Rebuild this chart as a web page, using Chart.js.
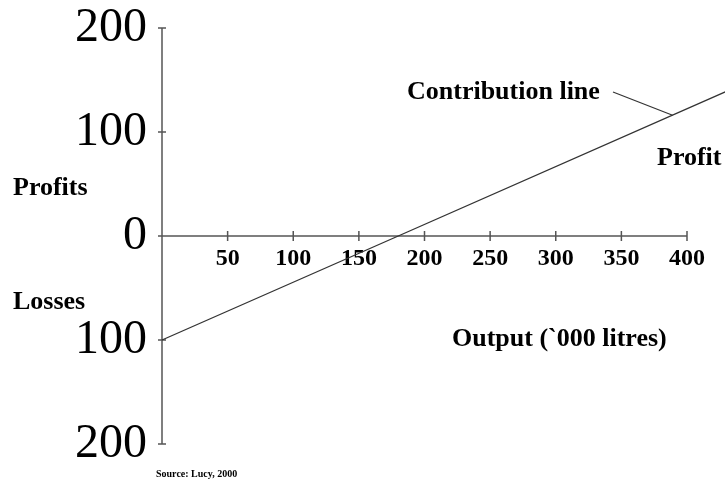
<!DOCTYPE html>
<html>
<head>
<meta charset="utf-8">
<script src="https://cdn.jsdelivr.net/npm/chart.js@4.4.1/dist/chart.umd.min.js"></script>
<style>
body{margin:0;background:#fff}
#wrap{width:725px;height:481px}
</style>
</head>
<body>
<div id="wrap"><canvas id="pv"></canvas></div>
<script>
// contribution line: output ('000 litres) vs profit/loss
const output=[0,180,430]
const contribution=[-100,0,139]

const xTicks=[50,100,150,200,250,300,350,400]
const xLabels=["50","100","150","200","250","300","350","400"]
const yTicks=[-200,-100,0,100,200]
const yLabels=["200","100","0","100","200"]

const xTitle="Output (`000 litres)"
const lineLabel="Contribution line"
const source="Source: Lucy, 2000"

const serif="'Liberation Serif','Times New Roman',serif"

const axesPlugin={
id:"axes",
beforeDatasetsDraw(chart){
let ctx=chart.ctx,x=chart.scales.x,y=chart.scales.y
let x0=x.getPixelForValue(0),y0=y.getPixelForValue(0)
ctx.save()
ctx.strokeStyle="#555"
ctx.lineWidth=1.5
ctx.beginPath()
ctx.moveTo(x0,y.getPixelForValue(200))
ctx.lineTo(x0,y.getPixelForValue(-200))
ctx.moveTo(x0-3,y0)
ctx.lineTo(x.getPixelForValue(400),y0)
xTicks.forEach(v=>{
let px=x.getPixelForValue(v)
ctx.moveTo(px,y0-5)
ctx.lineTo(px,y0+5)
})
yTicks.forEach(v=>{
let py=y.getPixelForValue(v)
ctx.moveTo(x0-4,py)
ctx.lineTo(x0+4,py)
})
ctx.stroke()
ctx.restore()
},
afterDatasetsDraw(chart){
let ctx=chart.ctx,x=chart.scales.x,y=chart.scales.y
ctx.save()
ctx.fillStyle="#000"
ctx.textBaseline="alphabetic"
ctx.textAlign="left"
ctx.font="bold 26px "+serif
ctx.fillText("Profits",13,195)
ctx.fillText("Losses",13,309)
ctx.fillText(lineLabel,407,99)
ctx.fillText("Profit",657,165)
ctx.fillText(xTitle,452,346)
ctx.font="bold 10px "+serif
ctx.fillText(source,156,477)
// pointer from label to the line
let ex=389
let ey=contribution[0]+(contribution[1]-contribution[0])*ex/(output[1]-output[0])
ctx.strokeStyle="#333"
ctx.lineWidth=1.2
ctx.beginPath()
ctx.moveTo(613,92)
ctx.lineTo(x.getPixelForValue(ex),y.getPixelForValue(ey))
ctx.stroke()
ctx.restore()
}
}

new Chart(document.getElementById("pv"),{
type:"line",
data:{
datasets:[{
label:lineLabel,
data:output.map((v,i)=>({x:v,y:contribution[i]})),
borderColor:"#333",
borderWidth:1.3,
pointRadius:0,
tension:0,
clip:false
}]
},
options:{
responsive:true,
maintainAspectRatio:false,
animation:false,
layout:{padding:{top:28,bottom:37,right:38,left:0}},
plugins:{legend:{display:false},tooltip:{enabled:false}},
scales:{
x:{
type:"linear",
min:0,
max:400,
position:{y:0},
afterFit(s){s.height=0;s.paddingLeft=0;s.paddingRight=0},
afterBuildTicks(s){s.ticks=xTicks.map(v=>({value:v}))},
grid:{display:false,drawTicks:false},
border:{display:false},
ticks:{
padding:8,
color:"#000",
maxRotation:0,
autoSkip:false,
font:{family:serif,size:24,weight:"bold"},
callback:(v,i)=>xLabels[i]
}
},
y:{
type:"linear",
min:-200,
max:200,
afterFit(s){s.width=162;s.paddingTop=0;s.paddingBottom=0},
afterBuildTicks(s){s.ticks=yTicks.map(v=>({value:v}))},
grid:{display:false,drawTicks:false},
border:{display:false},
ticks:{
padding:15,
color:"#000",
autoSkip:false,
font:{family:serif,size:48},
callback:(v,i)=>yLabels[i]
}
}
}
},
plugins:[axesPlugin]
})
</script>
</body>
</html>
